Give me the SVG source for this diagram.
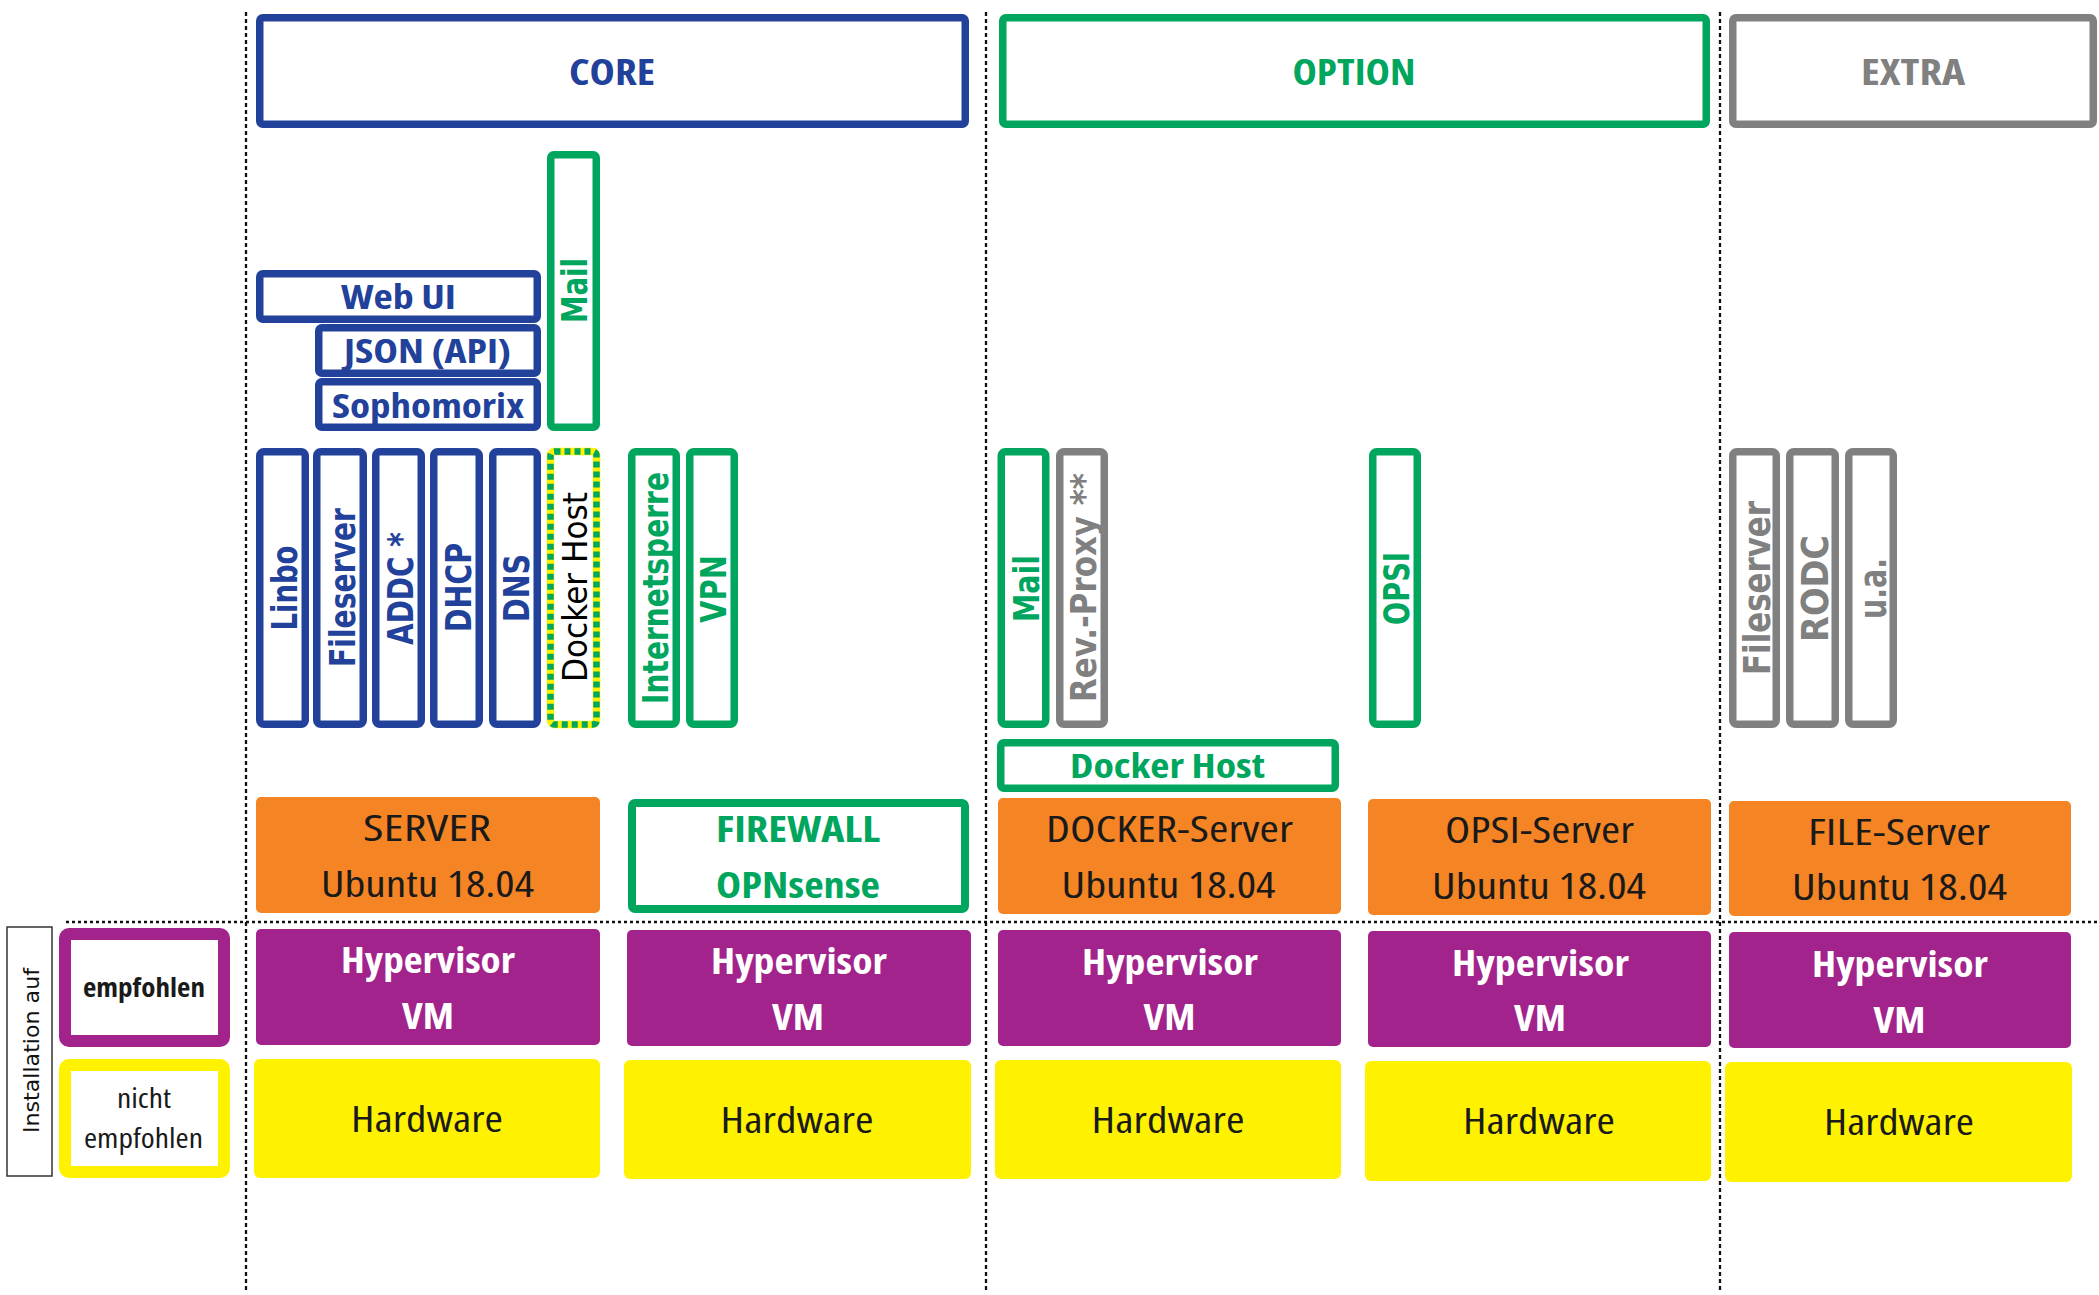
<svg xmlns="http://www.w3.org/2000/svg" width="2099" height="1295" viewBox="0 0 2099 1295">
<style>
.bg{fill:#ffffff}
.hb{fill:#ffffff;stroke-width:7.5}
.blue{stroke:#22419a}
.green{stroke:#00a65e}
.grey{stroke:#808080}
.vb{fill:#ffffff;stroke-width:7.5}
.orange{fill:#f58424}
.purple{fill:#a2238c}
.yellow{fill:#fff200}
.hc{font-family:"Open Sans","Liberation Sans",sans-serif;font-stretch:75%;text-anchor:middle}
.b{font-weight:700}
.r{font-weight:400}
.vt{font-family:"DejaVu Sans","Liberation Sans",sans-serif;font-weight:700;text-anchor:middle}
.tb{fill:#22419a}
.tg{fill:#00a65e}
.tgr{fill:#808080}
.tk{fill:#1a1a1a}
.tw{fill:#ffffff}
.sep{stroke:#111;stroke-width:2.3;fill:none}
</style>
<rect class="bg" x="0" y="0" width="2099" height="1295"/>

<g id="separators">
<line class="sep" x1="246" y1="12" x2="246" y2="1292" stroke-dasharray="4 3"/>
<line class="sep" x1="986" y1="12" x2="986" y2="1292" stroke-dasharray="4 3"/>
<line class="sep" x1="1720" y1="12" x2="1720" y2="1292" stroke-dasharray="4 3"/>
<line class="sep" x1="66" y1="922" x2="2099" y2="922" stroke-dasharray="3 3" stroke-width="2.6"/>
</g>

<g id="connectors"></g>

<g id="core-header">
<rect class="hb blue" x="259.75" y="17.75" width="705.5" height="106.5" rx="3"/>
<text class="hc b tb" x="612" y="85" font-size="36" textLength="86" lengthAdjust="spacingAndGlyphs">CORE</text>
</g>
<g id="option-header">
<rect class="hb green" x="1002.75" y="17.75" width="703.5" height="106.5" rx="3"/>
<text class="hc b tg" x="1354" y="85" font-size="36" textLength="123" lengthAdjust="spacingAndGlyphs">OPTION</text>
</g>
<g id="extra-header">
<rect class="hb grey" x="1732.75" y="17.75" width="360.5" height="106.5" rx="3"/>
<text class="hc b tgr" x="1913" y="85" font-size="36" textLength="104" lengthAdjust="spacingAndGlyphs">EXTRA</text>
</g>

<g id="webui">
<rect class="vb blue" x="259.75" y="273.75" width="277.5" height="45.5" rx="3"/>
<text class="hc b tb" x="398.5" y="309" font-size="34" textLength="115" lengthAdjust="spacingAndGlyphs">Web UI</text>
</g>
<g id="json">
<rect class="vb blue" x="318.75" y="327.75" width="218.5" height="45.5" rx="3"/>
<text class="hc b tb" x="427.5" y="363" font-size="34" textLength="167" lengthAdjust="spacingAndGlyphs">JSON (API)</text>
</g>
<g id="sophomorix">
<rect class="vb blue" x="318.75" y="381.75" width="218.5" height="45.5" rx="3"/>
<text class="hc b tb" x="428" y="418" font-size="34" textLength="192" lengthAdjust="spacingAndGlyphs">Sophomorix</text>
</g>
<g id="core-mail">
<rect class="vb green" x="550.75" y="154.75" width="45.5" height="272.5" rx="3"/>
<text class="vt tg" transform="translate(587,290.5) rotate(-90)" font-size="36" textLength="65" lengthAdjust="spacingAndGlyphs">Mail</text>
</g>

<g id="linbo">
<rect class="vb blue" x="259.75" y="451.75" width="45.5" height="272.5" rx="4"/>
<text class="vt tb" transform="translate(297,588) rotate(-90)" font-size="36" textLength="85" lengthAdjust="spacingAndGlyphs">Linbo</text>
</g>
<g id="fileserver">
<rect class="vb blue" x="316.75" y="451.75" width="46.5" height="272.5" rx="4"/>
<text class="vt tb" transform="translate(355,587.5) rotate(-90)" font-size="36" textLength="159" lengthAdjust="spacingAndGlyphs">Fileserver</text>
</g>
<g id="addc">
<rect class="vb blue" x="375.75" y="451.75" width="45.5" height="272.5" rx="4"/>
<text class="vt tb" transform="translate(413,588.5) rotate(-90)" font-size="36" textLength="113" lengthAdjust="spacingAndGlyphs">ADDC *</text>
</g>
<g id="dhcp">
<rect class="vb blue" x="433.75" y="451.75" width="45.5" height="272.5" rx="4"/>
<text class="vt tb" transform="translate(471,587.5) rotate(-90)" font-size="36" textLength="89" lengthAdjust="spacingAndGlyphs">DHCP</text>
</g>
<g id="dns">
<rect class="vb blue" x="492.75" y="451.75" width="44.5" height="272.5" rx="4"/>
<text class="vt tb" transform="translate(529,588) rotate(-90)" font-size="36" textLength="68" lengthAdjust="spacingAndGlyphs">DNS</text>
</g>
<g id="core-docker-host">
<rect x="550.5" y="451.5" width="46" height="273" rx="4" fill="#ffffff" stroke="#fff200" stroke-width="7.5"/>
<rect x="550.5" y="451.5" width="46" height="273" rx="4" fill="none" stroke="#00a65e" stroke-width="6.5" stroke-dasharray="6 4"/>
<text transform="translate(587,587) rotate(-90)" font-family="'DejaVu Sans','Liberation Sans',sans-serif" font-size="33" text-anchor="middle" fill="#000000" textLength="190" lengthAdjust="spacingAndGlyphs">Docker Host</text>
</g>
<g id="internetsperre">
<rect class="vb green" x="631.75" y="451.75" width="44.5" height="272.5" rx="4"/>
<text class="vt tg" transform="translate(668,588) rotate(-90)" font-size="36" textLength="232" lengthAdjust="spacingAndGlyphs">Internetsperre</text>
</g>
<g id="vpn">
<rect class="vb green" x="689.75" y="451.75" width="44.5" height="272.5" rx="4"/>
<text class="vt tg" transform="translate(726,589) rotate(-90)" font-size="36" textLength="68" lengthAdjust="spacingAndGlyphs">VPN</text>
</g>

<g id="option-mail">
<rect class="vb green" x="1001.25" y="451.75" width="44.5" height="272.5" rx="4"/>
<text class="vt tg" transform="translate(1039,588.5) rotate(-90)" font-size="36" textLength="67" lengthAdjust="spacingAndGlyphs">Mail</text>
</g>
<g id="rev-proxy">
<rect class="vb grey" x="1059.75" y="451.75" width="44.5" height="272.5" rx="4"/>
<text class="vt tgr" transform="translate(1096,587.5) rotate(-90)" font-size="36" textLength="229" lengthAdjust="spacingAndGlyphs">Rev.-Proxy **</text>
</g>
<g id="opsi">
<rect class="vb green" x="1372.75" y="451.75" width="44.5" height="272.5" rx="4"/>
<text class="vt tg" transform="translate(1409,588.5) rotate(-90)" font-size="36" textLength="73" lengthAdjust="spacingAndGlyphs">OPSI</text>
</g>
<g id="option-docker-host">
<rect class="vb green" x="1000.75" y="742.75" width="334.5" height="45.5" rx="3"/>
<text class="hc b tg" x="1167.5" y="778" font-size="33" textLength="195" lengthAdjust="spacingAndGlyphs">Docker Host</text>
</g>

<g id="extra-fileserver">
<rect class="vb grey" x="1732.75" y="451.75" width="43.5" height="272.5" rx="4"/>
<text class="vt tgr" transform="translate(1770,588) rotate(-90)" font-size="38" textLength="174" lengthAdjust="spacingAndGlyphs">Fileserver</text>
</g>
<g id="rodc">
<rect class="vb grey" x="1789.75" y="451.75" width="45.5" height="272.5" rx="4"/>
<text class="vt tgr" transform="translate(1828,588.5) rotate(-90)" font-size="38" textLength="107" lengthAdjust="spacingAndGlyphs">RODC</text>
</g>
<g id="ua">
<rect class="vb grey" x="1848.75" y="451.75" width="44.5" height="272.5" rx="4"/>
<text class="vt tgr" transform="translate(1886,588.5) rotate(-90)" font-size="38" textLength="61" lengthAdjust="spacingAndGlyphs">u.a.</text>
</g>

<g id="server">
<rect class="orange" x="256" y="797" width="344" height="116" rx="5"/>
<text class="hc r tk" x="427" y="841" font-size="36" textLength="128" lengthAdjust="spacingAndGlyphs">SERVER</text>
<text class="hc r tk" x="427.5" y="897" font-size="36" textLength="213" lengthAdjust="spacingAndGlyphs">Ubuntu 18.04</text>
</g>
<g id="firewall">
<rect fill="#ffffff" stroke="#00a65e" stroke-width="8" x="632" y="803" width="333" height="106" rx="3"/>
<text class="hc b tg" x="798" y="842" font-size="35" textLength="164" lengthAdjust="spacingAndGlyphs">FIREWALL</text>
<text class="hc b tg" x="798" y="898" font-size="35" textLength="164" lengthAdjust="spacingAndGlyphs">OPNsense</text>
</g>
<g id="docker-server">
<rect class="orange" x="998" y="798" width="343" height="116" rx="5"/>
<text class="hc r tk" x="1169.5" y="842" font-size="36" textLength="247" lengthAdjust="spacingAndGlyphs">DOCKER-Server</text>
<text class="hc r tk" x="1168.5" y="898" font-size="36" textLength="214" lengthAdjust="spacingAndGlyphs">Ubuntu 18.04</text>
</g>
<g id="opsi-server">
<rect class="orange" x="1368" y="799" width="343" height="116" rx="5"/>
<text class="hc r tk" x="1539.5" y="843" font-size="36" textLength="189" lengthAdjust="spacingAndGlyphs">OPSI-Server</text>
<text class="hc r tk" x="1539" y="899" font-size="36" textLength="214" lengthAdjust="spacingAndGlyphs">Ubuntu 18.04</text>
</g>
<g id="file-server">
<rect class="orange" x="1729" y="801" width="342" height="115" rx="5"/>
<text class="hc r tk" x="1899" y="845" font-size="36" textLength="182" lengthAdjust="spacingAndGlyphs">FILE-Server</text>
<text class="hc r tk" x="1899.5" y="900" font-size="36" textLength="215" lengthAdjust="spacingAndGlyphs">Ubuntu 18.04</text>
</g>

<g id="hypervisor-1">
<rect class="purple" x="256" y="929" width="344" height="116" rx="5"/>
<text class="hc b tw" x="428" y="973" font-size="36" textLength="174" lengthAdjust="spacingAndGlyphs">Hypervisor</text>
<text class="hc b tw" x="428" y="1029" font-size="36" textLength="52" lengthAdjust="spacingAndGlyphs">VM</text>
</g>
<g id="hypervisor-2">
<rect class="purple" x="627" y="930" width="344" height="116" rx="5"/>
<text class="hc b tw" x="799" y="974" font-size="36" textLength="176" lengthAdjust="spacingAndGlyphs">Hypervisor</text>
<text class="hc b tw" x="798" y="1030" font-size="36" textLength="52" lengthAdjust="spacingAndGlyphs">VM</text>
</g>
<g id="hypervisor-3">
<rect class="purple" x="998" y="930" width="343" height="116" rx="5"/>
<text class="hc b tw" x="1170" y="975" font-size="36" textLength="176" lengthAdjust="spacingAndGlyphs">Hypervisor</text>
<text class="hc b tw" x="1169.5" y="1030" font-size="36" textLength="52" lengthAdjust="spacingAndGlyphs">VM</text>
</g>
<g id="hypervisor-4">
<rect class="purple" x="1368" y="931" width="343" height="116" rx="5"/>
<text class="hc b tw" x="1540.5" y="976" font-size="36" textLength="177" lengthAdjust="spacingAndGlyphs">Hypervisor</text>
<text class="hc b tw" x="1540" y="1031" font-size="36" textLength="52" lengthAdjust="spacingAndGlyphs">VM</text>
</g>
<g id="hypervisor-5">
<rect class="purple" x="1729" y="932" width="342" height="116" rx="5"/>
<text class="hc b tw" x="1900" y="977" font-size="36" textLength="176" lengthAdjust="spacingAndGlyphs">Hypervisor</text>
<text class="hc b tw" x="1899.5" y="1033" font-size="36" textLength="52" lengthAdjust="spacingAndGlyphs">VM</text>
</g>

<g id="hardware-1">
<rect class="yellow" x="254" y="1059" width="346" height="119" rx="6"/>
<text class="hc r tk" x="427" y="1132" font-size="36" textLength="152" lengthAdjust="spacingAndGlyphs">Hardware</text>
</g>
<g id="hardware-2">
<rect class="yellow" x="624" y="1060" width="347" height="119" rx="6"/>
<text class="hc r tk" x="797" y="1133" font-size="36" textLength="153" lengthAdjust="spacingAndGlyphs">Hardware</text>
</g>
<g id="hardware-3">
<rect class="yellow" x="995" y="1060" width="346" height="119" rx="6"/>
<text class="hc r tk" x="1168" y="1133" font-size="36" textLength="153" lengthAdjust="spacingAndGlyphs">Hardware</text>
</g>
<g id="hardware-4">
<rect class="yellow" x="1365" y="1061" width="346" height="120" rx="6"/>
<text class="hc r tk" x="1539" y="1134" font-size="36" textLength="152" lengthAdjust="spacingAndGlyphs">Hardware</text>
</g>
<g id="hardware-5">
<rect class="yellow" x="1725" y="1062" width="347" height="120" rx="6"/>
<text class="hc r tk" x="1899" y="1135" font-size="36" textLength="150" lengthAdjust="spacingAndGlyphs">Hardware</text>
</g>

<g id="legend-installation">
<rect x="7" y="927" width="45" height="249" fill="#ffffff" stroke="#333333" stroke-width="1.5"/>
<text transform="translate(39,1050.5) rotate(-90)" font-family="'DejaVu Sans','Liberation Sans',sans-serif" font-size="22" text-anchor="middle" fill="#111111" textLength="165" lengthAdjust="spacingAndGlyphs">Installation auf</text>
</g>
<g id="legend-empfohlen">
<rect x="65" y="934" width="159" height="107" rx="4" fill="#ffffff" stroke="#a2238c" stroke-width="12"/>
<text class="hc b tk" x="144" y="997" font-size="27" textLength="122" lengthAdjust="spacingAndGlyphs">empfohlen</text>
</g>
<g id="legend-nicht-empfohlen">
<rect x="65" y="1065" width="159" height="107" rx="4" fill="#ffffff" stroke="#fff200" stroke-width="12"/>
<text class="hc r tk" x="144" y="1108" font-size="27" textLength="54" lengthAdjust="spacingAndGlyphs">nicht</text>
<text class="hc r tk" x="143.5" y="1148" font-size="27" textLength="119" lengthAdjust="spacingAndGlyphs">empfohlen</text>
</g>
</svg>
